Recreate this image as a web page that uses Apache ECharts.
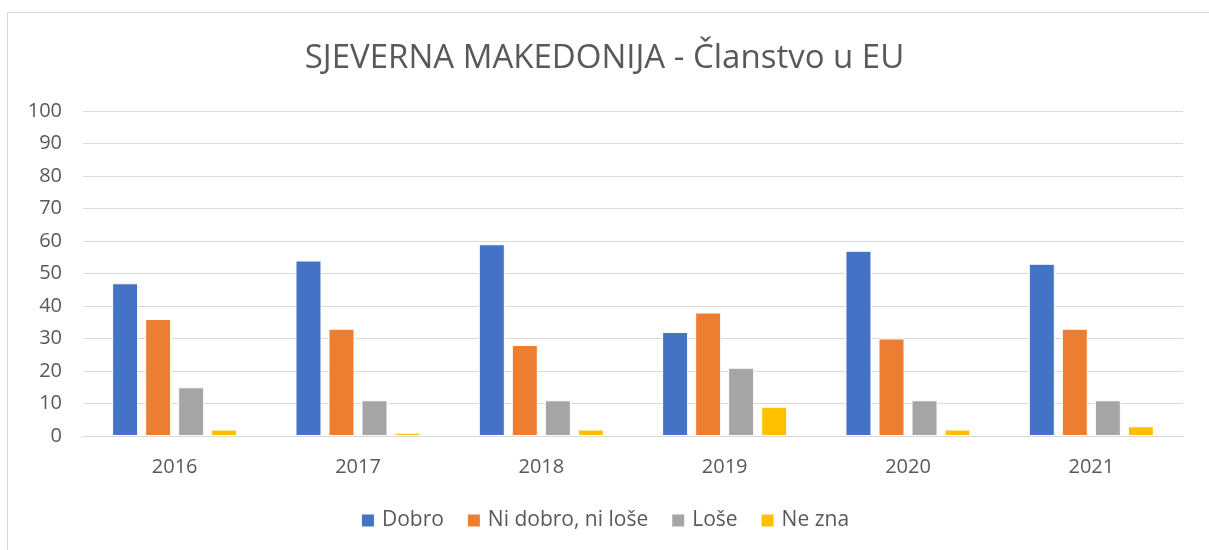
<!DOCTYPE html>
<html>
<head>
<meta charset="utf-8">
<script src="https://cdn.jsdelivr.net/npm/echarts@6/dist/echarts.min.js"></script>
<style>
  html, body { margin: 0; padding: 0; background: #fff; }
  #frame { position: absolute; left: 7px; top: 12px; width: 1220px; height: 560px; border: 1px solid #d9d9d9; box-sizing: border-box; }
  #chart { position: absolute; left: 0; top: 0; width: 1209px; height: 550px; }
</style>
</head>
<body>
<div id="frame"></div>
<div id="chart"></div>
<script>
// podaci
const years = ['2016', '2017', '2018', '2019', '2020', '2021'];
const dobro = [47, 54, 59, 32, 57, 53];
const niDobroNiLose = [36, 33, 28, 38, 30, 33];
const lose = [15, 11, 11, 21, 11, 11];
const neZna = [2, 1, 2, 9, 2, 3];
const yTicks = { min: 0, max: 100, interval: 10 };

const textColor = '#595959';
const fontFamily = '"Open Sans", "Noto Sans", sans-serif';

const mkSeries = (name, data, color) => ({
  name: name,
  type: 'bar',
  data: data,
  barWidth: 26,
  barGap: '27%',
  itemStyle: { color: color, borderColor: '#fff', borderWidth: 1 }
});

const chart = echarts.init(document.getElementById('chart'));
chart.setOption({
  animation: false,
  textStyle: { fontFamily: fontFamily },
  title: {
    text: 'SJEVERNA MAKEDONIJA - Članstvo u EU',
    left: 'center',
    top: 37,
    textStyle: { fontSize: 33, fontWeight: 400, color: textColor, fontFamily: fontFamily }
  },
  legend: {
    bottom: 14,
    left: 'center',
    itemWidth: 14,
    itemHeight: 14,
    itemGap: 22,
    icon: 'rect',
    textStyle: { fontSize: 21, color: textColor, fontFamily: fontFamily, padding: [0, 0, 0, 2] }
  },
  grid: { left: 83, right: 26, top: 111, bottom: 114, containLabel: false },
  xAxis: {
    type: 'category',
    data: years,
    axisLine: { lineStyle: { color: '#d9d9d9', width: 1 } },
    axisTick: { show: false },
    axisLabel: { fontSize: 20, color: textColor, margin: 21 }
  },
  yAxis: {
    type: 'value',
    min: yTicks.min,
    max: yTicks.max,
    interval: yTicks.interval,
    axisLine: { show: false },
    axisTick: { show: false },
    splitLine: { lineStyle: { color: '#d9d9d9', width: 1 } },
    axisLabel: { fontSize: 20, color: textColor, margin: 21 }
  },
  series: [
    mkSeries('Dobro', dobro, '#4472c4'),
    mkSeries('Ni dobro, ni loše', niDobroNiLose, '#ed7d31'),
    mkSeries('Loše', lose, '#a5a5a5'),
    mkSeries('Ne zna', neZna, '#ffc000')
  ]
});
</script>
</body>
</html>
